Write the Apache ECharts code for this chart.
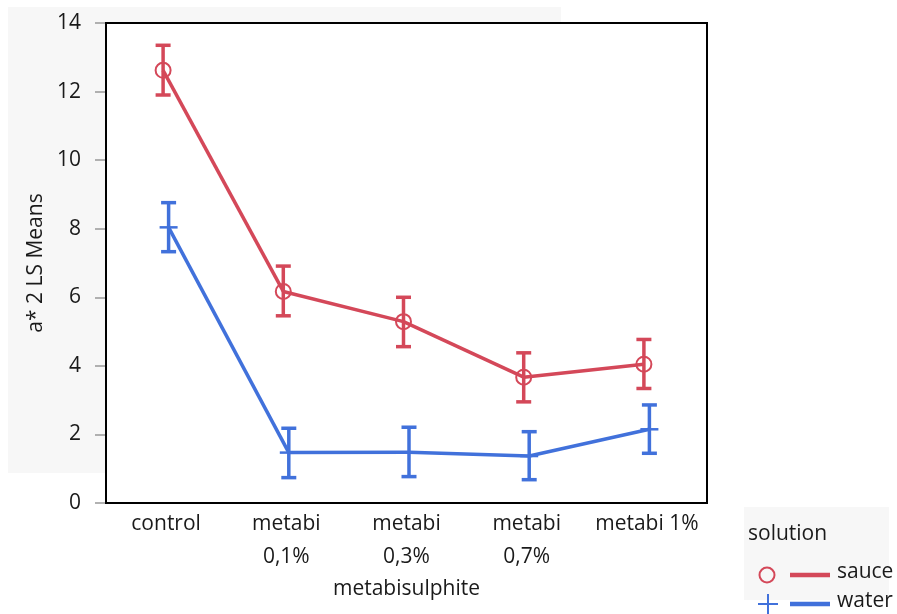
<!DOCTYPE html>
<html>
<head>
<meta charset="utf-8">
<script src="https://cdn.jsdelivr.net/npm/echarts@6/dist/echarts.min.js"></script>
<style>
  html, body { margin: 0; padding: 0; background: #fff; }
  #chart { width: 897px; height: 614px; }
</style>
</head>
<body>
<div id="chart"></div>
<script>
// Levels of metabisulphite treatment
const categories = ['control', 'metabi\n0,1%', 'metabi\n0,3%', 'metabi\n0,7%', 'metabi 1%'];

// LS means and their error-bar limits for each solution
const sauceMean  = [12.62, 6.17, 5.29, 3.67, 4.05];
const sauceLow   = [11.90, 5.46, 4.56, 2.95, 3.34];
const sauceHigh  = [13.35, 6.91, 6.00, 4.38, 4.77];

const waterMean  = [8.04, 1.47, 1.48, 1.37, 2.15];
const waterLow   = [7.33, 0.74, 0.77, 0.68, 1.45];
const waterHigh  = [8.76, 2.18, 2.21, 2.08, 2.86];

const yTicks = [0, 2, 4, 6, 8, 10, 12, 14];

const RED = '#D44859';
const BLUE = '#4171DB';
const INK = '#1a1a1a';
const FONT = '"Open Sans", "Noto Sans", sans-serif';
const FS = 21;

function build(mean, low, high) {
  return mean.map((m, i) => [i, m, low[i], high[i]]);
}

// Draws connecting segment, error bar and marker for one level, nudged sideways by dx
function makeRenderer(mean, color, dx, marker) {
  return function (params, api) {
    const i = api.value(0);
    const p = api.coord([i, api.value(1)]);
    const lo = api.coord([i, api.value(2)]);
    const hi = api.coord([i, api.value(3)]);
    const x = p[0] + dx;
    const children = [];
    if (i > 0) {
      const q = api.coord([i - 1, mean[i - 1]]);
      children.push({
        type: 'line', z2: 1,
        shape: { x1: q[0] + dx, y1: q[1], x2: x, y2: p[1] },
        style: { stroke: color, lineWidth: 3.5 }
      });
    }
    const cap = 7.5;
    children.push({
      type: 'line', z2: 2,
      shape: { x1: x, y1: lo[1], x2: x, y2: hi[1] },
      style: { stroke: color, lineWidth: 3.5 }
    });
    children.push({
      type: 'line', z2: 2,
      shape: { x1: x - cap, y1: lo[1], x2: x + cap, y2: lo[1] },
      style: { stroke: color, lineWidth: 3.5 }
    });
    children.push({
      type: 'line', z2: 2,
      shape: { x1: x - cap, y1: hi[1], x2: x + cap, y2: hi[1] },
      style: { stroke: color, lineWidth: 3.5 }
    });
    if (marker === 'circle') {
      children.push({
        type: 'circle', z2: 3,
        shape: { cx: x, cy: p[1], r: 7.5 },
        style: { fill: 'rgba(255,255,255,0)', stroke: color, lineWidth: 2 }
      });
    } else {
      children.push({
        type: 'line', z2: 3,
        shape: { x1: x - 9, y1: p[1], x2: x + 9, y2: p[1] },
        style: { stroke: color, lineWidth: 2.5 }
      });
    }
    return { type: 'group', children: children };
  };
}

const chart = echarts.init(document.getElementById('chart'), null, { renderer: 'canvas' });

chart.setOption({
  animation: false,
  backgroundColor: '#ffffff',
  textStyle: { fontFamily: FONT },
  grid: {
    left: 106, top: 23, right: 190, bottom: 111,
    show: true, backgroundColor: '#ffffff',
    borderColor: '#000000', borderWidth: 2, z: 1
  },
  xAxis: {
    type: 'category',
    data: categories,
    boundaryGap: true,
    axisLine: { show: false },
    axisTick: { show: false },
    axisLabel: {
      color: INK, fontSize: FS, fontFamily: FONT,
      lineHeight: 33, margin: 5, interval: 0
    },
    name: 'metabisulphite',
    nameLocation: 'middle',
    nameGap: 75,
    nameTextStyle: { color: INK, fontSize: FS, fontFamily: FONT }
  },
  yAxis: {
    type: 'value',
    min: yTicks[0], max: yTicks[yTicks.length - 1], interval: 2,
    splitLine: { show: false },
    axisLine: { show: false },
    axisTick: { show: true, length: 11, lineStyle: { color: '#999999', width: 1.5 } },
    axisLabel: { color: INK, fontSize: FS, fontFamily: FONT, margin: 25 },
    name: 'a* 2 LS Means',
    nameLocation: 'middle',
    nameGap: 58,
    nameTextStyle: { color: INK, fontSize: FS, fontFamily: FONT }
  },
  graphic: [
    // panel backdrop behind the plot
    { type: 'rect', z: -10, silent: true,
      shape: { x: 8, y: 7, width: 553, height: 466 },
      style: { fill: '#F7F7F7' } },
    // legend
    { type: 'rect', z: -10, silent: true,
      shape: { x: 744, y: 507, width: 145, height: 93 },
      style: { fill: '#F7F7F7' } },
    { type: 'text', left: 748, top: 524,
      style: { text: 'solution', fill: INK, font: FS + 'px ' + FONT } },
    { type: 'circle', shape: { cx: 767, cy: 575, r: 7.5 },
      style: { fill: 'none', stroke: RED, lineWidth: 2 } },
    { type: 'line', shape: { x1: 790, y1: 575, x2: 830, y2: 575 },
      style: { stroke: RED, lineWidth: 4.5 } },
    { type: 'text', left: 837, top: 562,
      style: { text: 'sauce', fill: INK, font: FS + 'px ' + FONT } },
    { type: 'line', shape: { x1: 758, y1: 604, x2: 778, y2: 604 },
      style: { stroke: BLUE, lineWidth: 2 } },
    { type: 'line', shape: { x1: 768, y1: 594, x2: 768, y2: 614 },
      style: { stroke: BLUE, lineWidth: 2 } },
    { type: 'line', shape: { x1: 790, y1: 604, x2: 830, y2: 604 },
      style: { stroke: BLUE, lineWidth: 4.5 } },
    { type: 'text', left: 837, top: 591,
      style: { text: 'water', fill: INK, font: FS + 'px ' + FONT } }
  ],
  series: [
    {
      name: 'water', type: 'custom', z: 3,
      data: build(waterMean, waterLow, waterHigh),
      renderItem: makeRenderer(waterMean, BLUE, 2.5, 'plus'),
      encode: { x: 0, y: 1 }
    },
    {
      name: 'sauce', type: 'custom', z: 4,
      data: build(sauceMean, sauceLow, sauceHigh),
      renderItem: makeRenderer(sauceMean, RED, -3, 'circle'),
      encode: { x: 0, y: 1 }
    }
  ]
});
</script>
</body>
</html>
